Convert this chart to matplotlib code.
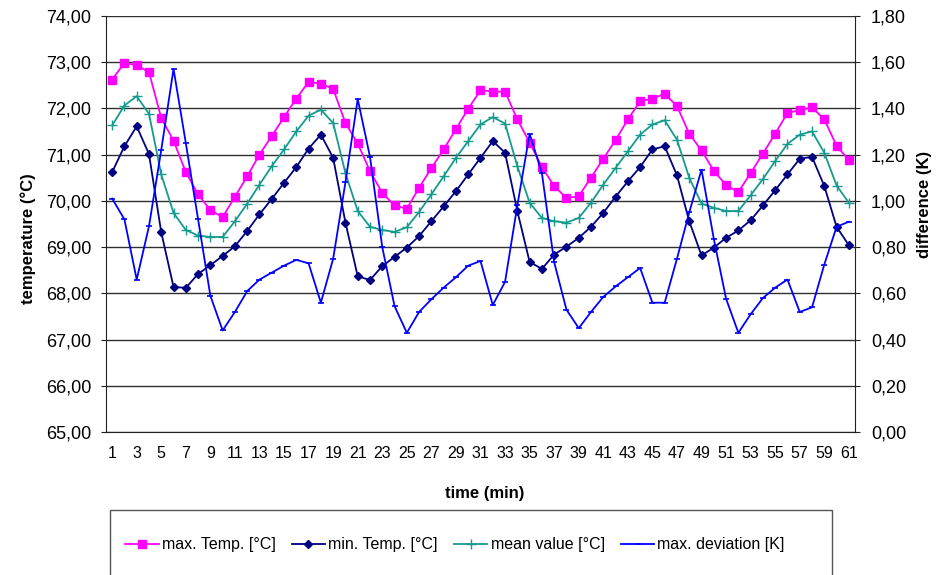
import numpy as np
import matplotlib
matplotlib.use("Agg")
import matplotlib.pyplot as plt
from matplotlib.patches import Rectangle
from matplotlib.ticker import FuncFormatter

plt.rcParams['font.family'] = ['Liberation Sans', 'DejaVu Sans']

# time in minutes
minutes = np.arange(1, 62)

max_temp = [72.62, 72.98, 72.93, 72.78, 71.79, 71.30, 70.62, 70.14, 69.80, 69.65,
            70.09, 70.53, 71.00, 71.40, 71.81, 72.21, 72.57, 72.53, 72.42, 71.68,
            71.24, 70.64, 70.17, 69.90, 69.83, 70.28, 70.71, 71.11, 71.55, 71.99,
            72.39, 72.36, 72.36, 71.76, 71.26, 70.73, 70.32, 70.06, 70.10, 70.50,
            70.91, 71.31, 71.76, 72.15, 72.21, 72.31, 72.05, 71.45, 71.09, 70.65,
            70.34, 70.19, 70.60, 71.02, 71.45, 71.90, 71.96, 72.02, 71.76, 71.19,
            70.88]
min_temp = [70.62, 71.18, 71.61, 71.01, 69.32, 68.14, 68.12, 68.42, 68.61, 68.81,
            69.02, 69.35, 69.71, 70.04, 70.39, 70.73, 71.13, 71.43, 70.93, 69.53,
            68.37, 68.29, 68.59, 68.79, 68.99, 69.24, 69.56, 69.88, 70.21, 70.57,
            70.93, 71.29, 71.04, 69.78, 68.68, 68.53, 68.84, 69.01, 69.20, 69.44,
            69.74, 70.09, 70.42, 70.73, 71.11, 71.18, 70.55, 69.56, 68.82, 68.99,
            69.20, 69.36, 69.58, 69.90, 70.23, 70.57, 70.91, 70.95, 70.32, 69.44,
            69.04]
mean_val = [71.63, 72.06, 72.26, 71.88, 70.57, 69.74, 69.37, 69.25, 69.22, 69.22,
            69.56, 69.94, 70.35, 70.75, 71.11, 71.50, 71.84, 71.97, 71.68, 70.60,
            69.78, 69.44, 69.37, 69.33, 69.43, 69.76, 70.14, 70.53, 70.93, 71.29,
            71.65, 71.81, 71.67, 70.75, 69.96, 69.63, 69.56, 69.53, 69.63, 69.96,
            70.35, 70.71, 71.07, 71.43, 71.65, 71.74, 71.32, 70.50, 69.94, 69.85,
            69.78, 69.78, 70.12, 70.47, 70.86, 71.23, 71.43, 71.50, 71.04, 70.33,
            69.96]
max_dev = [1.01, 0.92, 0.66, 0.89, 1.22, 1.57, 1.25, 0.92, 0.59, 0.44,
           0.52, 0.61, 0.66, 0.69, 0.72, 0.745, 0.73, 0.56, 0.75, 1.08,
           1.44, 1.19, 0.80, 0.545, 0.43, 0.52, 0.575, 0.625, 0.67, 0.72,
           0.74, 0.55, 0.65, 0.98, 1.29, 1.12, 0.735, 0.53, 0.45, 0.52,
           0.585, 0.63, 0.67, 0.71, 0.56, 0.56, 0.75, 0.95, 1.135, 0.836,
           0.577, 0.43, 0.51, 0.58, 0.625, 0.66, 0.52, 0.54, 0.725, 0.888,
           0.91]

left_ticks = np.arange(65, 74.01, 1.0)
right_ticks = np.arange(0, 1.801, 0.2)

comma = FuncFormatter(lambda v, p: f"{v:.2f}".replace(".", ","))

fig = plt.figure(figsize=(9.48, 5.75), dpi=100)
ax = fig.add_axes([106/948, 1-432.3/575, 749/948, 416.6/575])
ax2 = ax.twinx()

# temperatures on the left axis
ax.plot(minutes, max_temp, color='#ff00ff', lw=1.3, marker='s', ms=6,
        label='max. Temp. [°C]', zorder=3)
ax.plot(minutes, min_temp, color='#000080', lw=1.3, marker='D', ms=4.5,
        label='min. Temp. [°C]', zorder=3)
ax.plot(minutes, mean_val, color='#169a8e', lw=1.3, marker='+', ms=7, mew=1.0,
        label='mean value [°C]', zorder=3)
# deviation on the right axis
ax2.plot(minutes, max_dev, color='#0000ff', lw=1.3, marker='_', ms=5, mew=1.2,
         label='max. deviation [K]')

ax.set_xlim(0.5, 61.5)
ax.set_ylim(65, 74)
ax2.set_ylim(0, 1.8)
ax.set_yticks(left_ticks)
ax2.set_yticks(right_ticks)
ax.yaxis.set_major_formatter(comma)
ax2.yaxis.set_major_formatter(comma)
ax.set_xticks(minutes[::2])
ax.set_xticklabels([str(m) for m in minutes[::2]])

for a in (ax, ax2):
    a.spines['top'].set_visible(False)
    for s in a.spines.values():
        s.set_color('#222222')
ax.spines['right'].set_visible(False)
ax2.spines['left'].set_visible(False)
ax2.spines['bottom'].set_visible(False)

ax.yaxis.grid(True, color='#303030', lw=1.0)
ax.set_axisbelow(True)
ax.tick_params(axis='y', labelsize=13, length=3.5, color='#222222', pad=7)
ax2.tick_params(axis='y', labelsize=13, length=3.5, color='#222222', pad=8)
ax.tick_params(axis='x', labelsize=11.5, length=0, pad=10)

ax.set_ylabel('temperature (°C)', fontsize=12, fontweight='bold')
ax.yaxis.set_label_coords(-0.0935, 0.466)
ax2.set_ylabel('difference (K)', fontsize=12, fontweight='bold')
ax2.yaxis.set_label_coords(1.083, 0.546)
ax.set_xlabel('time (min)', fontsize=12, fontweight='bold')
ax.xaxis.set_label_coords(0.506, -0.128)

# legend box running off the bottom edge
fig.patches.append(Rectangle((110/948, -0.02), 722/948, 65/575 + 0.02,
                             transform=fig.transFigure, fill=False,
                             edgecolor='#555555', lw=1.0))
h1, l1 = ax.get_legend_handles_labels()
h2, l2 = ax2.get_legend_handles_labels()
fig.legend(h1 + h2, l1 + l2, loc='center', ncol=4, frameon=False,
           bbox_to_anchor=(455/948, 1-545/575), fontsize=11.5,
           handlelength=2.1, handletextpad=0.2, columnspacing=1.0)

fig.savefig('out.png', dpi=100)
